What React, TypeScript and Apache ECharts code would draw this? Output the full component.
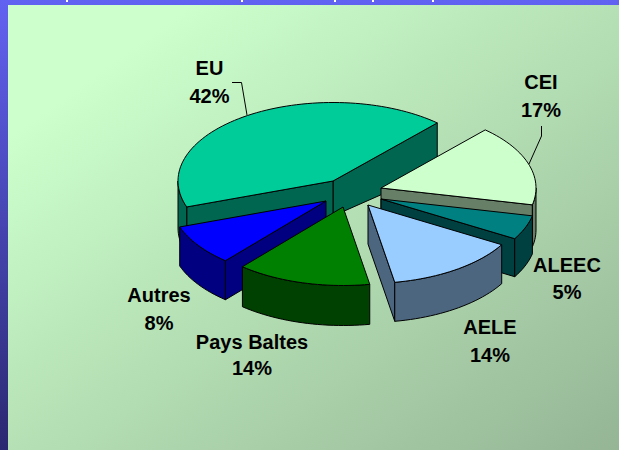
import React, { useEffect, useRef } from "react";
import * as echarts from "echarts";

const names = ["EU", "CEI", "ALEEC", "AELE", "Pays Baltes", "Autres"];
const shares = [42.1, 16.7, 5.0, 13.8, 14.0, 8.4];

// presentation, not data
const topColors = ["#00CC99", "#CCFFCC", "#008080", "#99CCFF", "#008000", "#0000FF"];
const sideColors = ["#006650", "#667F66", "#004040", "#4D6680", "#004000", "#000080"];
const apexX = [333, 381, 381, 368, 343, 326];
const apexY = [181, 188, 199, 205, 207, 201];
const innerDepth = [35, 42, 38, 39, 40, 39];
const outerDepth = [47, 42, 38, 39, 40, 39];
const labelX = [209.5, 541, 567, 490, 252, 159];
const nameY = [68, 82, 265, 327, 342, 295];
const pctY = [96, 110, 292, 355, 368, 323];
const paintOrder = [0, 1, 2, 3, 5, 4];
const titleRemnantX = [66, 241, 334, 372, 432];
const RX = 155;
const RY = 78.5;
const START = -199.3;

const rad = (d: number) => (d * Math.PI) / 180;

function bounds(i: number): [number, number] {
  let a = START;
  for (let k = 0; k < i; k++) a += shares[k] * 3.6;
  return [a, a + shares[i] * 3.6];
}

function arcPoints(cx: number, cy: number, a: number, b: number) {
  const n = Math.max(2, Math.ceil((b - a) / 2));
  const pts: number[][] = [];
  for (let k = 0; k <= n; k++) {
    const t = rad(a + ((b - a) * k) / n);
    pts.push([cx + RX * Math.cos(t), cy + RY * Math.sin(t)]);
  }
  return pts;
}

function renderSlice(params: any) {
  const i = paintOrder[params.dataIndex];
  const [a, b] = bounds(i);
  const cx = apexX[i];
  const cy = apexY[i];
  const din = innerDepth[i];
  const dout = outerDepth[i];
  const sideStyle = { fill: sideColors[i], stroke: "#000", lineWidth: 1, lineJoin: "round" };
  const children: any[] = [];
  const radial = (deg: number) => {
    const t = rad(deg);
    const x = cx + RX * Math.cos(t);
    const y = cy + RY * Math.sin(t);
    children.push({
      type: "polygon",
      shape: { points: [[cx, cy], [x, y], [x, y + dout], [cx, cy + din]] },
      style: sideStyle,
    });
  };
  if (Math.cos(rad(b)) > 0) radial(b);
  if (Math.cos(rad(a)) < 0) radial(a);
  [[-360, -180], [0, 180], [360, 540]].forEach(([lo, hi]) => {
    const s = Math.max(a, lo);
    const e = Math.min(b, hi);
    if (e <= s) return;
    const upper = arcPoints(cx, cy, s, e);
    const lower = upper.map(([x, y]) => [x, y + dout]).reverse();
    children.push({
      type: "polygon",
      shape: { points: upper.concat(lower) },
      style: sideStyle,
    });
  });
  children.push({
    type: "polygon",
    shape: { points: [[cx, cy], ...arcPoints(cx, cy, a, b)] },
    style: { fill: topColors[i], stroke: "#000", lineWidth: 1, lineJoin: "round" },
  });
  return { type: "group", children };
}

const labelGraphics = names.flatMap((n, i) => {
  const common = {
    fill: "#000",
    font: 'bold 20px "Liberation Sans", Arial, sans-serif',
    textAlign: "center",
    textVerticalAlign: "middle",
  };
  return [
    { type: "text", x: labelX[i], y: nameY[i], z: 10, style: { text: n, ...common } },
    { type: "text", x: labelX[i], y: pctY[i], z: 10, style: { text: `${Math.round(shares[i])}%`, ...common } },
  ];
});

const leader = (points: number[][]) => ({
  type: "polyline",
  z: 5,
  shape: { points },
  style: { stroke: "#000", lineWidth: 1, fill: "none" },
});

export default function App() {
  const ref = useRef<HTMLDivElement>(null);
  useEffect(() => {
    const chart = echarts.init(ref.current!, undefined, { renderer: "svg" });
    chart.setOption({
      animation: false,
      graphic: [
        {
          type: "rect",
          z: -3,
          shape: { x: 0, y: 0, width: 619, height: 450 },
          style: {
            fill: new echarts.graphic.LinearGradient(0, 0, 0, 1, [
              { offset: 0, color: "#6262F2" },
              { offset: 1, color: "#2A2870" },
            ]),
          },
        },
        {
          type: "rect",
          z: -2,
          shape: { x: 8, y: 5, width: 611, height: 445 },
          style: {
            fill: new echarts.graphic.LinearGradient(0, 0, 1, 1, [
              { offset: 0, color: "#CCFFCC" },
              { offset: 0.15, color: "#CCFFCC" },
              { offset: 1, color: "#95B595" },
            ]),
          },
        },
        ...titleRemnantX.map((x) => ({
          type: "rect",
          z: -1,
          shape: { x, y: 0, width: 2, height: 2 },
          style: { fill: "#fff" },
        })),
        leader([[232, 82.5], [241.5, 82.5], [247, 115]]),
        leader([[541.5, 126], [541.5, 136], [529, 164]]),
        ...labelGraphics,
      ],
      series: [
        {
          type: "custom",
          coordinateSystem: "none",
          silent: true,
          z: 2,
          data: paintOrder.map((i) => ({ name: names[i], value: shares[i] })),
          renderItem: renderSlice,
        },
      ],
    });
    return () => chart.dispose();
  }, []);
  return (
    <div
      ref={ref}
      style={{ position: "absolute", left: 0, top: 0, width: 619, height: 450 }}
    />
  );
}
